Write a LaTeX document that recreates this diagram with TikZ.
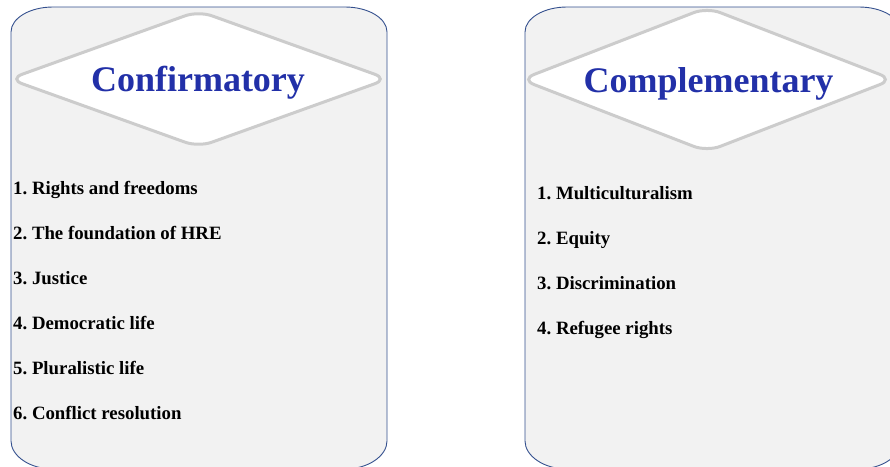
\documentclass[tikz,border=0pt]{standalone}
\usepackage{fontspec}
\setmainfont{Liberation Serif}
\usepackage{tikz}
\usetikzlibrary{positioning}
\frenchspacing
\definecolor{panelfill}{HTML}{F2F2F2}
\definecolor{panelline}{HTML}{34508E}
\definecolor{titleblue}{HTML}{2230A8}
\definecolor{diamondline}{HTML}{CCCCCC}
\tikzset{
    panel style/.style={fill=panelfill, draw=panelline, line width=0.9pt},
    diamond style/.style={fill=white, draw=diamondline, line width=3pt, rounded corners=14pt},
    title/.style={font=\fontsize{36}{40}\selectfont\bfseries, text=titleblue, inner sep=0pt, anchor=base},
    item/.style={font=\fontsize{18.8}{22}\selectfont\bfseries, anchor=base west, inner sep=0pt},
}

\begin{document}
\begin{tikzpicture}[x=1pt,y=-1pt]
    \useasboundingbox (0,0) rectangle (890,466);
    \clip (0,0) rectangle (890,466);
    % the two panels
    \foreach \x in {11,525}
        \draw[panel style] (\x,32) .. controls (\x,18) and (\x+19,7) .. (\x+42,7) -- (\x+334,7)
            .. controls (\x+357,7) and (\x+376,18) .. (\x+376,32) -- (\x+376,441)
            .. controls (\x+376,456) and (\x+357,469) .. (\x+334,469) -- (\x+42,469)
            .. controls (\x+19,469) and (\x,456) .. (\x,441) -- cycle;
    % the diamonds behind the titles
    \draw[diamond style] (9,79) -- (198.5,11) -- (388,79) -- (198.5,147) -- cycle;
    \draw[diamond style] (521,79.5) -- (707,7.5) -- (893,79.5) -- (707,151.5) -- cycle;
    \node[title] (confirm) at (198,91) {Confirmatory};
    \node[title] (complement) at (708.5,92) {Complementary};

    \foreach \txt [count=\i] in {Rights and freedoms, The foundation of HRE, Justice,
            Democratic life, Pluralistic life, Conflict resolution}
        \node[item] (conf-\i) at (13,{194+45*(\i-1)}) {\i. \txt};
    \foreach \txt [count=\i] in {Multiculturalism, Equity, Discrimination, Refugee rights}
        \node[item] (comp-\i) at (537,{199+45.3*(\i-1)}) {\i. \txt};
\end{tikzpicture}
\end{document}
